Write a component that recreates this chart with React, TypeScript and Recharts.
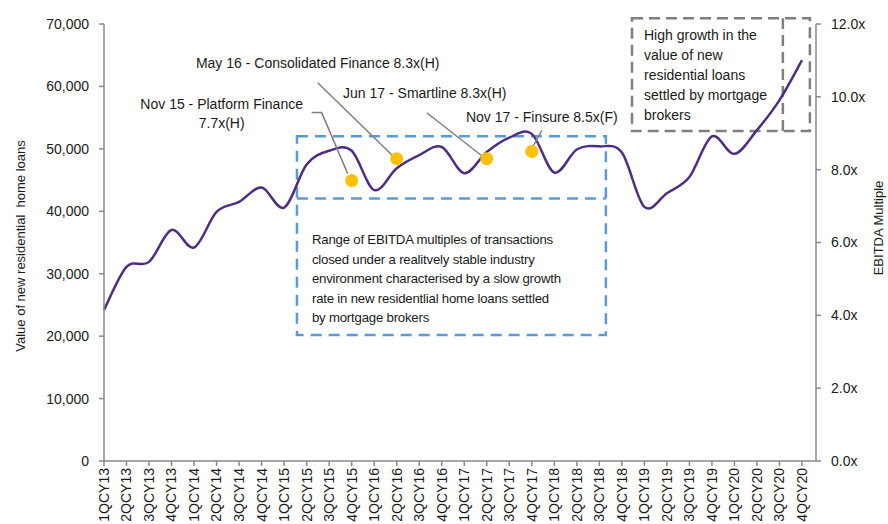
import {
  ComposedChart,
  Line,
  XAxis,
  YAxis,
  ReferenceArea,
  ReferenceLine,
} from "recharts"

const quarters = [
  "1QCY13", "2QCY13", "3QCY13", "4QCY13",
  "1QCY14", "2QCY14", "3QCY14", "4QCY14",
  "1QCY15", "2QCY15", "3QCY15", "4QCY15",
  "1QCY16", "2QCY16", "3QCY16", "4QCY16",
  "1QCY17", "2QCY17", "3QCY17", "4QCY17",
  "1QCY18", "2QCY18", "3QCY18", "4QCY18",
  "1QCY19", "2QCY19", "3QCY19", "4QCY19",
  "1QCY20", "2QCY20", "3QCY20", "4QCY20",
]

// value of new residential home loans settled by brokers
const loans = [
  24200, 31100, 31900, 37000,
  34200, 39900, 41500, 43800,
  40600, 47500, 49700, 49700,
  43400, 46900, 49000, 50300,
  46100, 49500, 51800, 52400,
  46200, 49900, 50400, 49400,
  40700, 42900, 45500, 52000,
  49200, 53000, 57800, 64200,
]

const dealQuarters = ["4QCY15", "2QCY16", "2QCY17", "4QCY17"]
const dealMultiples = [7.7, 8.3, 8.3, 8.5]
const dealNotes = [
  ["Nov 15 - Platform Finance", "7.7x(H)"],
  ["May 16 - Consolidated Finance 8.3x(H)"],
  ["Jun 17 - Smartline 8.3x(H)"],
  ["Nov 17 - Finsure 8.5x(F)"],
]

const leftTicks = [0, 10000, 20000, 30000, 40000, 50000, 60000, 70000]
const rightTicks = [0, 2, 4, 6, 8, 10, 12]

const rangeNote = [
  "Range of EBITDA multiples of transactions",
  "closed under a realitvely stable industry",
  "environment characterised by a slow growth",
  "rate in new residentlial home loans settled",
  "by mortgage brokers",
]
const growthNote = [
  "High growth in the",
  "value of new",
  "residential loans",
  "settled by mortgage",
  "brokers",
]

const data = quarters.map((q, i) => {
  const k = dealQuarters.indexOf(q)
  return { idx: i, q, loans: loans[i], multiple: k >= 0 ? dealMultiples[k] : null }
})

// offsets of each deal note from its dot (text centre + leader line)
const noteLayout = [
  { dx: -130, dy: -77, leader: [[-40, -68], [-30, -68], [-4, -7]] },
  { dx: -79, dy: -96, leader: [[-79, -76], [-4, -3]] },
  { dx: -62, dy: -66, leader: [[-60, -46], [-5, -3]] },
  { dx: 10, dy: -34, leader: [[10, -21], [-1, -1]] },
]

const FONT = '"Liberation Sans", Arial, sans-serif'
const INK = "#1a1a1a"
const AXIS = "#898989"

// Excel-like smoothed line (Catmull-Rom through every point)
const smoothCurve = (context: any) => {
  let pts: number[][] = []
  return {
    areaStart() {},
    areaEnd() {},
    lineStart() {
      pts = []
    },
    point(x: number, y: number) {
      pts.push([+x, +y])
    },
    lineEnd() {
      if (!pts.length) return
      context.moveTo(pts[0][0], pts[0][1])
      for (let i = 0; i < pts.length - 1; i++) {
        const p0 = pts[i - 1] || pts[i]
        const p1 = pts[i]
        const p2 = pts[i + 1]
        const p3 = pts[i + 2] || p2
        context.bezierCurveTo(
          p1[0] + (p2[0] - p0[0]) / 6,
          p1[1] + (p2[1] - p0[1]) / 6,
          p2[0] - (p3[0] - p1[0]) / 6,
          p2[1] - (p3[1] - p1[1]) / 6,
          p2[0],
          p2[1]
        )
      }
    },
  }
}

const QuarterTick = ({ x, y, payload }: any) => (
  <g transform={`translate(${x},${y})`}>
    <text transform="rotate(-90)" x={0} y={0} dy="0.35em" textAnchor="end" fontSize={14} fill={INK} fontFamily={FONT}>
      {quarters[payload.value]}
    </text>
  </g>
)

const renderDealDot = (props: any) => {
  const { cx, cy, index, payload } = props
  if (payload == null || payload.multiple == null || cx == null || cy == null || isNaN(cy)) {
    return <g key={`deal-${index}`} />
  }
  const k = dealQuarters.indexOf(payload.q)
  const lay = noteLayout[k]
  return (
    <g key={`deal-${index}`}>
      <polyline
        points={lay.leader.map(([dx, dy]) => `${cx + dx},${cy + dy}`).join(" ")}
        fill="none"
        stroke="#7f7f7f"
        strokeWidth={1.5}
      />
      <circle cx={cx} cy={cy} r={6.5} fill="#FFC000" />
      {dealNotes[k].map((t, i) => (
        <text
          key={i}
          x={cx + lay.dx}
          y={cy + lay.dy + i * 19 + 5}
          textAnchor="middle"
          fontSize={14}
          fill={INK}
          fontFamily={FONT}
        >
          {t}
        </text>
      ))}
    </g>
  )
}

const boxText =
  (lines: string[], dx: number, dy: number, lineH: number, size: number, spacing = 0) =>
  (props: any) => {
    const vb = props.viewBox || {}
    return (
      <g>
        {lines.map((t, i) => (
          <text
            key={i}
            x={vb.x + dx}
            y={vb.y + dy + i * lineH + 5}
            fontSize={size}
            letterSpacing={spacing}
            fill={INK}
            fontFamily={FONT}
          >
            {t}
          </text>
        ))}
      </g>
    )
  }

const axisTitle = (text: string, side: "left" | "right", yCenter: number) => (props: any) => {
  const vb = props.viewBox || {}
  const x = side === "left" ? vb.x + 20 : vb.x + vb.width - 10
  return (
    <text
      x={x}
      y={yCenter}
      transform={`rotate(-90, ${x}, ${yCenter})`}
      textAnchor="middle"
      dominantBaseline="central"
      fontSize={13}
      fill={INK}
      fontFamily={FONT}
      style={{ whiteSpace: "pre" }}
    >
      {text}
    </text>
  )
}

export default function App() {
  return (
    <div style={{ position: "absolute", left: 0, top: 0, width: 888, height: 524, background: "#fff", fontFamily: FONT }}>
      <ComposedChart width={888} height={524} data={data} margin={{ top: 24, right: 0, bottom: 0, left: 0 }}>
        <XAxis
          dataKey="idx"
          type="number"
          domain={[0, 31]}
          ticks={quarters.map((_, i) => i)}
          interval={0}
          padding={{ left: 0, right: 14 }}
          height={63}
          stroke={AXIS}
          strokeWidth={1.5}
          tickSize={5}
          tickMargin={2}
          tick={<QuarterTick />}
        />
        <YAxis
          yAxisId="left"
          domain={[0, 70000]}
          ticks={leftTicks}
          width={104}
          stroke={AXIS}
          strokeWidth={1.5}
          tickSize={5}
          tickMargin={10}
          tick={{ fill: INK, fontSize: 14, fontFamily: FONT }}
          tickFormatter={(v) => v.toLocaleString("en-US")}
          label={axisTitle("Value of new residential  home loans", "left", 246)}
        />
        <YAxis
          yAxisId="right"
          orientation="right"
          domain={[0, 12]}
          ticks={rightTicks}
          width={72}
          stroke={AXIS}
          strokeWidth={1.5}
          tickSize={5}
          tickMargin={10}
          tick={{ fill: INK, fontSize: 14, fontFamily: FONT }}
          tickFormatter={(v) => `${v.toFixed(1)}x`}
          label={axisTitle("EBITDA Multiple", "right", 228)}
        />
        <ReferenceArea
          yAxisId="right"
          x1={8.57}
          x2={22.29}
          y1={3.46}
          y2={8.92}
          fill="none"
          stroke="#5B9BD5"
          strokeWidth={2.5}
          strokeDasharray="11 7"
          ifOverflow="visible"
          label={boxText(rangeNote, 15, 103, 19.5, 13.2, -0.2)}
        />
        <ReferenceLine
          yAxisId="right"
          segment={[
            { x: 8.57, y: 7.21 },
            { x: 22.29, y: 7.21 },
          ]}
          stroke="#5B9BD5"
          strokeWidth={2.5}
          strokeDasharray="11 7"
          ifOverflow="visible"
        />
        <ReferenceArea
          yAxisId="right"
          x1={23.45}
          x2={31.35}
          y1={9.06}
          y2={12.16}
          fill="none"
          stroke="#7f7f7f"
          strokeWidth={2.5}
          strokeDasharray="11 6"
          ifOverflow="visible"
          label={boxText(growthNote, 12, 17, 20, 14)}
        />
        <ReferenceLine
          yAxisId="right"
          segment={[
            { x: 30.15, y: 9.06 },
            { x: 30.15, y: 12.16 },
          ]}
          stroke="#7f7f7f"
          strokeWidth={2.5}
          strokeDasharray="11 6"
          ifOverflow="visible"
        />
        <Line
          yAxisId="left"
          dataKey="loans"
          type={smoothCurve as any}
          stroke="#4F2D82"
          strokeWidth={2.5}
          dot={false}
          activeDot={false}
          isAnimationActive={false}
        />
        <Line
          yAxisId="right"
          dataKey="multiple"
          stroke="none"
          dot={renderDealDot}
          activeDot={false}
          isAnimationActive={false}
        />
      </ComposedChart>
    </div>
  )
}
